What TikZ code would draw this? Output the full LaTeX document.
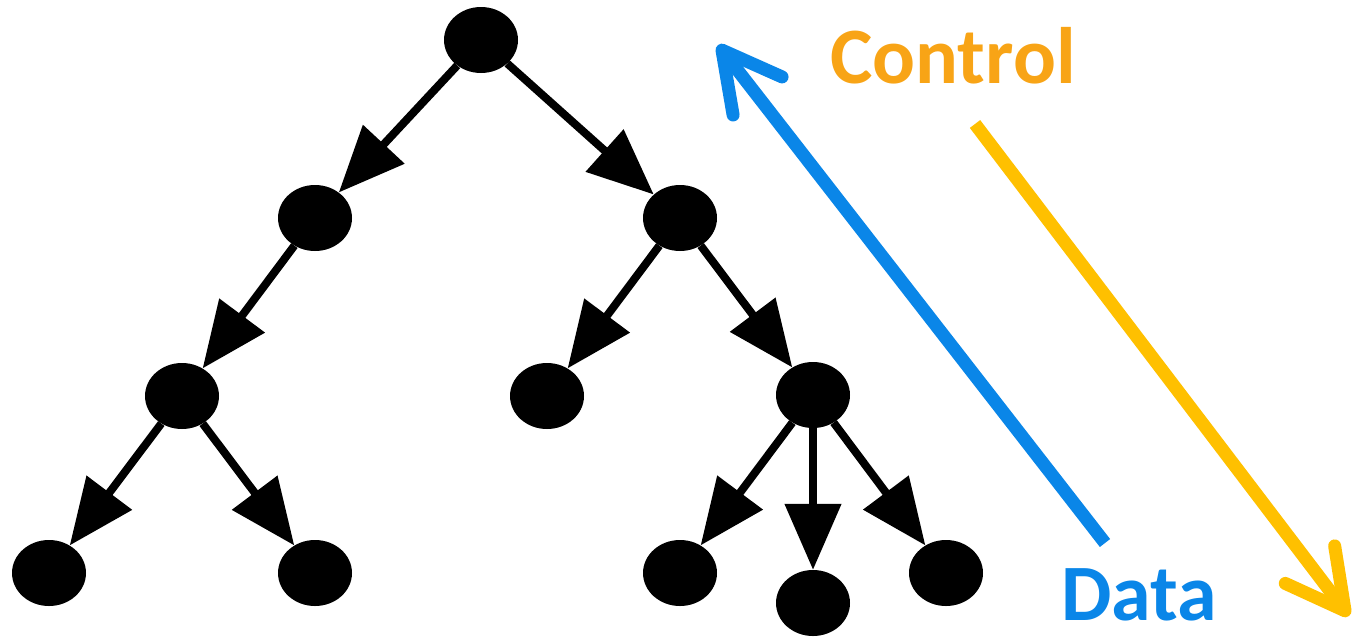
\documentclass[tikz,border=0pt]{standalone}
\usepackage{fontspec}
\setmainfont{Carlito}
\usetikzlibrary{arrows.meta,shapes.geometric}
\definecolor{dataBlue}{HTML}{0A86E8}
\definecolor{ctrlOrange}{HTML}{F8A416}
\definecolor{ctrlYellow}{HTML}{FFC000}
\begin{document}
\begin{tikzpicture}[x=1pt,y=-1pt,
  vertex/.style={ellipse, fill=black, minimum width=74pt, minimum height=66pt, inner sep=0pt},
  edge/.style={line width=8pt, -{Triangle[length=66pt,width=55pt]}},
  flow/.style={line width=13pt, -{Straight Barb[length=58pt,width=62pt,line cap=round,line join=round]}},
  lbl/.style={font=\bfseries\fontsize{80}{80}\selectfont, inner sep=0pt}]
\useasboundingbox (0,0) rectangle (1357,638);

% tree vertices
\node[vertex] (r)   at (481,40)  {};
\node[vertex] (a)   at (315,218) {};
\node[vertex] (b)   at (680,218) {};
\node[vertex] (a1)  at (182,396) {};
\node[vertex] (b1)  at (547,396) {};
\node[vertex] (b2)  at (813,395) {};
\node[vertex] (a11) at (49,573)  {};
\node[vertex] (a12) at (315,573) {};
\node[vertex] (b21) at (680,573) {};
\node[vertex] (b22) at (813,603) {};
\node[vertex] (b23) at (946,573) {};

% tree edges
\draw[edge] (r) -- (a);
\draw[edge] (r) -- (b);
\draw[edge] (a) -- (a1);
\draw[edge] (a1) -- (a11);
\draw[edge] (a1) -- (a12);
\draw[edge] (b) -- (b1);
\draw[edge] (b) -- (b2);
\draw[edge] (b2) -- (b21);
\draw[edge] (b2) -- (b22);
\draw[edge] (b2) -- (b23);

% data flows up, control flows down
\coordinate (dStart) at (1105,543);
\coordinate (dEnd)   at (718,45);
\coordinate (cStart) at (975,124);
\coordinate (cEnd)   at (1349,616);
\draw[flow, dataBlue] (dStart) -- (dEnd);
\draw[flow, ctrlYellow] (cStart) -- (cEnd);

\node[lbl, text=ctrlOrange, anchor=base west] (ctrl) at (830,83) {Control};
\node[lbl, text=dataBlue, anchor=base west] (data) at (1061,620) {Data};
\end{tikzpicture}
\end{document}
